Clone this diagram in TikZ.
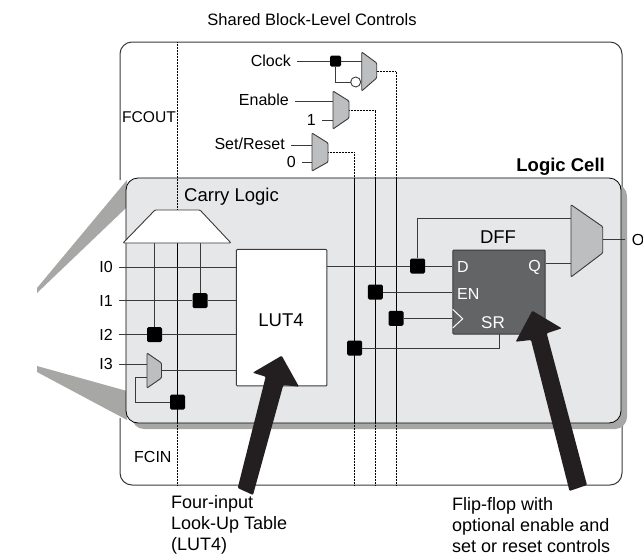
\documentclass[tikz,border=0pt]{standalone}
\usepackage{fontspec}
\setmainfont{Liberation Sans}
\usepackage{xcolor}
\usetikzlibrary{positioning}
\definecolor{cellfill}{HTML}{E6E7E8}
\definecolor{shadowgray}{HTML}{A7A8A6}
\definecolor{muxgray}{HTML}{BCBEC0}
\definecolor{dffgray}{HTML}{636466}
\definecolor{arrowblack}{HTML}{231F20}
\definecolor{wiregray}{HTML}{3A3A3A}

\begin{document}
\begin{tikzpicture}[
    x=1pt, y=-1pt,
    label/.style={inner sep=0pt, font=\fontsize{16}{18}\selectfont},
    biglabel/.style={inner sep=0pt, font=\fontsize{18.5}{21}\selectfont},
    pinlabel/.style={label, anchor=east, inner xsep=6pt},
    note/.style={anchor=west, inner sep=0pt, align=left, font=\fontsize{18}{21}\selectfont},
    wire/.style={draw=wiregray, line width=0.9pt},
    bus/.style={draw=black, line width=0.8pt},
    busdot/.style={draw=black, line width=1pt, dash pattern=on 0.8pt off 0.7pt},
    junction/.style={fill=black, rounded corners=1.5pt, inner sep=0pt, minimum size=15pt},
    mux/.style={draw=wiregray, fill=muxgray, line width=0.9pt, rounded corners=1pt},
    bigarrow/.style={fill=arrowblack, rounded corners=1pt}
]
\useasboundingbox (0,0) rectangle (643,555);

% outer frame, open where the cell covers it
\draw[draw=wiregray, line width=1pt, rounded corners=12pt]
    (120,180) -- (120,42) -- (622,42) -- (622,485) -- (120,485) -- (120,418);

% zoom wedges
\fill[shadowgray] (127,180) -- (127,207) -- (37,293) -- (37,288) -- cycle;
\fill[shadowgray] (127,391) -- (127,420) -- (37,372) -- (37,366) -- cycle;

% logic cell
\fill[shadowgray, rounded corners=12pt] (132,184) rectangle (627,429);
\draw[fill=cellfill, draw=black, line width=0.8pt, rounded corners=12pt] (126,178) rectangle (621,423);

\node[label, font=\fontsize{16.5}{18}\selectfont] (title) at (312,20) {Shared Block-Level Controls};
\node[biglabel, anchor=east, font=\fontsize{18.5}{21}\selectfont\bfseries] (cell) at (605,167) {Logic Cell};
\node[biglabel, anchor=west] (carry) at (184,197) {Carry Logic};
\node[label, anchor=west, font=\fontsize{15.6}{18}\selectfont] (fcout) at (122,117) {FCOUT};
\node[label, anchor=west] (fcin) at (134,457) {FCIN};

% control inputs
\node[pinlabel] (clock) at (297,61) {Clock};
\node[pinlabel] (enable) at (295,100) {Enable};
\node[pinlabel] (setreset) at (291,144) {Set/Reset};
\node[pinlabel] (one) at (322,120) {1};
\node[pinlabel] (zero) at (302,162) {0};

\coordinate (clkmuxa) at (361.7,61);
\coordinate (clkmuxb) at (360.7,82);
\coordinate (clkout) at (376.7,71.7);
\coordinate (enmuxa) at (333,101);
\coordinate (enmuxb) at (333,120);
\coordinate (enout) at (349,110);
\coordinate (srmuxa) at (312,145);
\coordinate (srmuxb) at (312,162);
\coordinate (srout) at (328,152);

% vertical routes
\coordinate (clktop) at (396,178);
\coordinate (clkbot) at (396,423);
\coordinate (clkend) at (396,485);
\coordinate (entop) at (375.3,178);
\coordinate (enbot) at (375.3,423);
\coordinate (enend) at (375.3,485);
\coordinate (srtop) at (354.7,178);
\coordinate (srbot) at (354.7,423);
\coordinate (srend) at (354.7,485);
\coordinate (fctop) at (177.5,42);
\coordinate (fcmid) at (177.5,210);
\coordinate (fcbot) at (177.5,423);
\coordinate (fcend) at (177.5,485);

\draw[busdot] (clkout) -| (clktop);
\draw[bus] (clktop) -- (clkbot);
\draw[busdot] (clkbot) -- (clkend);
\draw[busdot] (enout) -| (entop);
\draw[bus] (entop) -- (enbot);
\draw[busdot] (enbot) -- (enend);
\draw[busdot] (srout) -| (srtop);
\draw[bus] (srtop) -- (srbot);
\draw[busdot] (srbot) -- (srend);
\draw[busdot] (fctop) -- (fcmid);
\draw[bus] (fcmid) -- (fcbot);
\draw[busdot] (fcbot) -- (fcend);

% control muxes
\node[junction, minimum size=11pt] (clkjn) at (335.5,61) {};
\draw[wire] (clock.east) -- (clkjn);
\draw[wire] (clkjn) -- (clkmuxa);
\draw[wire] (clkjn) |- (clkmuxb);
\draw[wire] (enable.east |- enmuxa) -- (enmuxa);
\draw[wire] (one.east) -- (enmuxb);
\draw[wire] (setreset.east |- srmuxa) -- (srmuxa);
\draw[wire] (zero.east) -- (srmuxb);
\draw[mux] (361.7,52) -- (376.7,63) -- (376.7,78) -- (361.7,91) -- cycle;
\draw[mux] (333,91) -- (349,101) -- (349,118) -- (333,129) -- cycle;
\draw[mux] (312,133) -- (328,143) -- (328,162) -- (312,171) -- cycle;
\node[circle, draw=wiregray, fill=white, line width=0.9pt, inner sep=0pt, minimum size=10pt] (clkinv) at (355.7,82) {};

% LUT4 and its inputs
\node[draw=wiregray, fill=white, line width=1pt, rounded corners=1pt, minimum width=90.5pt, minimum height=136.5pt, inner sep=0pt] (lut) at (281.7,317.7) {};
\node[biglabel] (lutname) at (281,320.5) {LUT4};

\node[pinlabel] (izero) at (119,267) {I0};
\node[pinlabel] (ione) at (119,300.7) {I1};
\node[pinlabel] (itwo) at (119,334.7) {I2};
\node[pinlabel] (ithree) at (119,364) {I3};

\node[junction] (jone) at (200,300.7) {};
\node[junction] (jtwo) at (154.5,334.7) {};
\node[junction] (jfc) at (177.5,402) {};

\coordinate (imuxa) at (147,364);
\coordinate (imuxb) at (147,377);
\coordinate (imuxout) at (161.5,370.7);
\coordinate (carryb) at (154.5,243);
\coordinate (carryc) at (200,243);

\draw[wire] (izero.east) -- (izero.east -| lut.west);
\draw[wire] (ione.east) -- (jone);
\draw[wire] (jone) -- (jone -| lut.west);
\draw[wire] (itwo.east) -- (jtwo);
\draw[wire] (jtwo) -- (jtwo -| lut.west);
\draw[wire] (ithree.east) -- (imuxa);
\draw[wire] (imuxout) -- (imuxout -| lut.west);
\draw[wire] (carryb) -- (jtwo);
\draw[wire] (carryc) -- (jone);
\draw[wire] (imuxb) -- (135.5,377) |- (jfc);

\draw[mux] (147,353) -- (161.5,363) -- (161.5,378) -- (147,388) -- cycle;
\draw[draw=wiregray, fill=white, line width=0.9pt, rounded corners=1pt]
    (155,210) -- (200,210) -- (231,243) -- (123,243) -- cycle;

% flip-flop
\node[draw=wiregray, fill=dffgray, rounded corners=1pt, line width=1pt, minimum width=92.3pt, minimum height=84pt, inner sep=0pt] (dff) at (498.9,292) {};
\node[biglabel] (dffname) at (498,237) {DFF};
\node[label, anchor=west, text=white] (dffd) at (457,267) {D};
\node[label, anchor=west, text=white] (dffen) at (457,294) {EN};
\node[label, font=\fontsize{17}{19}\selectfont, text=white] (dffsr) at (493,322.7) {SR};
\node[label, anchor=east, text=white] (dffq) at (541,267) {Q};
\draw[white, line width=1pt] (452.7,309.3) -- (462.7,318.7) -- (452.7,328);

\node[junction] (jd) at (417.7,266) {};
\node[junction] (jen) at (375.3,292) {};
\node[junction] (jclk) at (396,318.3) {};
\node[junction] (jsr) at (354.7,348) {};

\coordinate (omuxa) at (571,218.7);
\coordinate (omuxb) at (571,263);
\coordinate (omuxout) at (602.7,239.7);
\coordinate (srpin) at (499.3,334);
\node[label, anchor=west] (oname) at (631.7,240) {O};

\draw[wire] (lut.east |- jd) -- (jd);
\draw[wire] (jd) -- (jd -| dff.west);
\draw[wire] (jd) |- (omuxa);
\draw[wire] (jen) -- (jen -| dff.west);
\draw[wire] (jclk) -- (jclk -| dff.west);
\draw[wire] (srpin) |- (jsr);
\draw[wire] (omuxb -| dff.east) -- (omuxb);
\draw[wire] (omuxout) -- (625,239.7);
\draw[mux] (571,204.7) -- (602.7,226.7) -- (602.7,253) -- (571,277) -- cycle;

% callouts
\fill[bigarrow] (281.7,355.7) -- (299,386.7) -- (283.3,385) -- (253,495) -- (237.7,488) -- (265.7,376.7) -- (252.7,372.7) -- cycle;
\fill[bigarrow] (532.3,310.7) -- (561.7,328.3) -- (546.7,333.3) -- (587,485) -- (569.5,491) -- (531,340) -- (515.7,341.7) -- cycle;

\node[note] (lutnote) at (171,525) {Four-input\\Look-Up Table\\(LUT4)};
\node[note] (dffnote) at (452,525) {Flip-flop with\\optional enable and\\set or reset controls};

\end{tikzpicture}
\end{document}
